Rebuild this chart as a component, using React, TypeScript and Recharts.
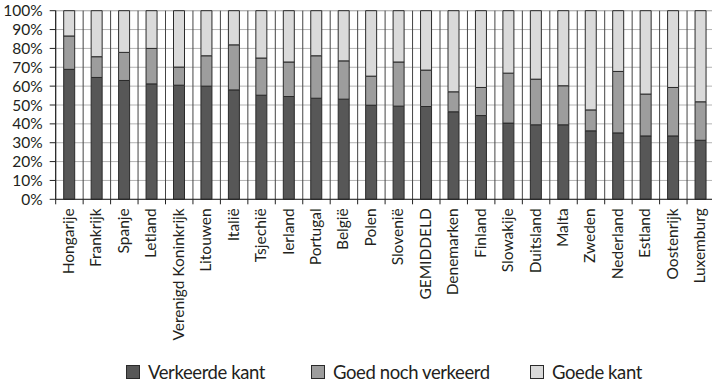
import React from 'react';
import { BarChart, Bar, XAxis, YAxis, CartesianGrid, Legend } from 'recharts';

const categories = ['Hongarije', 'Frankrijk', 'Spanje', 'Letland', 'Verenigd Koninkrijk', 'Litouwen', 'Italië', 'Tsjechië', 'Ierland', 'Portugal', 'België', 'Polen', 'Slovenië', 'GEMIDDELD', 'Denemarken', 'Finland', 'Slowakije', 'Duitsland', 'Malta', 'Zweden', 'Nederland', 'Estland', 'Oostenrijk', 'Luxemburg'];
const verkeerdeKant = [68.9, 64.6, 63.0, 61.2, 60.5, 60.0, 58.0, 55.2, 54.5, 53.6, 53.1, 49.9, 49.4, 49.2, 46.4, 44.4, 40.4, 39.5, 39.5, 36.3, 35.2, 33.6, 33.6, 31.3];
const goedNochVerkeerd = [17.7, 11.0, 14.9, 18.8, 9.6, 16.1, 23.9, 19.7, 18.3, 22.5, 20.3, 15.4, 23.4, 19.3, 10.6, 14.9, 26.5, 24.2, 20.7, 11.1, 32.6, 22.2, 25.7, 20.4];
const goedeKant = [13.4, 24.4, 22.1, 20.0, 29.9, 23.9, 18.1, 25.1, 27.2, 23.9, 26.6, 34.7, 27.2, 31.5, 43.0, 40.7, 33.1, 36.3, 39.8, 52.6, 32.2, 44.2, 40.7, 48.3];
const yTicks = [0, 10, 20, 30, 40, 50, 60, 70, 80, 90, 100];
const seriesNames = ['Verkeerde kant', 'Goed noch verkeerd', 'Goede kant'];

const colors = ['#575757', '#9d9d9d', '#dadada'];
const keys = ['verkeerde', 'goedNoch', 'goede'];

const data = categories.map((c, i) => ({
  name: c,
  verkeerde: verkeerdeKant[i],
  goedNoch: goedNochVerkeerd[i],
  goede: goedeKant[i],
}));

const CHART_W = 720;
const CHART_H = 384;
const MARGIN = { top: 10.7, right: 5.5, left: 0, bottom: 0 };
const Y_W = 55.7;
const BAND = (CHART_W - MARGIN.left - MARGIN.right - Y_W) / categories.length;

const XTick = (props: any) => {
  const { x, y, payload } = props;
  const ty = y + 9;
  return (
    <g>
      <line x1={x - BAND / 2} x2={x - BAND / 2} y1={y} y2={y + 5} stroke="#222" strokeWidth={1} />
      <text
        x={x}
        y={ty}
        transform={`rotate(-90 ${x} ${ty})`}
        textAnchor="end"
        dy={4.5}
        fontSize={15.5}
        fill="#231f20"
        fontFamily="Lato"
      >
        {payload.value}
      </text>
    </g>
  );
};

const LegendContent = () => {
  const lefts = [126, 311, 530];
  return (
    <div style={{ position: 'relative', width: CHART_W, height: 24 }}>
      {seriesNames.map((n, i) => (
        <div key={n} style={{ position: 'absolute', left: lefts[i], top: 5, height: 14, display: 'flex', alignItems: 'center' }}>
          <div style={{ width: 12, height: 12, background: colors[i], border: '1px solid #2a2a2a' }} />
          <span style={{ marginLeft: 8, fontFamily: 'Lato', fontSize: 18.5, letterSpacing: '-0.4px', color: '#231f20', lineHeight: '14px', whiteSpace: 'nowrap' }}>{n}</span>
        </div>
      ))}
    </div>
  );
};

export default function App() {
  return (
    <div style={{ position: 'absolute', left: 0, top: 0, width: 712, height: 384, overflow: 'hidden', background: '#fff' }}>
      <BarChart width={CHART_W} height={CHART_H} data={data} margin={MARGIN} barSize={11} style={{ fontFamily: 'Lato' }}>
        <CartesianGrid vertical={false} stroke="#b3b3b3" />
        <CartesianGrid
          horizontal={false}
          stroke="#444"
          verticalCoordinatesGenerator={({ offset }: any) =>
            categories.map((_, i) => offset.left + (i * offset.width) / categories.length).concat([offset.left + offset.width])
          }
        />
        <XAxis
          dataKey="name"
          interval={0}
          tickLine={false}
          tickSize={0}
          tickMargin={0}
          height={160.7}
          stroke="#222"
          tick={<XTick />}
        />
        <YAxis
          type="number"
          domain={[0, 100]}
          ticks={yTicks}
          interval={0}
          width={Y_W}
          tickSize={6}
          tickMargin={7}
          stroke="#222"
          tickFormatter={(v: number) => `${v}%`}
          tick={{ fontSize: 15.5, fill: '#231f20', fontFamily: 'Lato' }}
        />
        <Legend verticalAlign="bottom" height={24} wrapperStyle={{ left: 0, bottom: 0, width: CHART_W, height: 24 }} content={<LegendContent />} />
        {keys.map((k, i) => (
          <Bar key={k} dataKey={k} name={seriesNames[i]} stackId="a" fill={colors[i]} stroke="#2a2a2a" strokeWidth={1} isAnimationActive={false} />
        ))}
      </BarChart>
    </div>
  );
}
